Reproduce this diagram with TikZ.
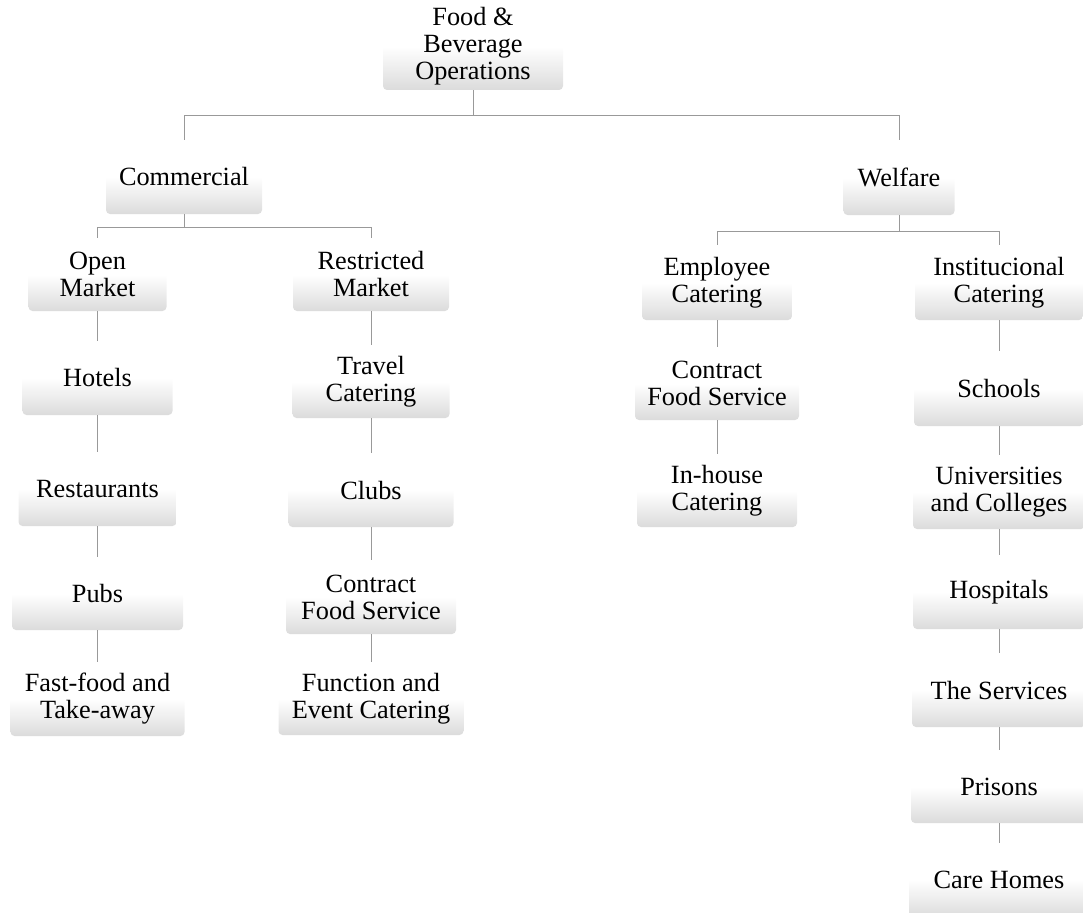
\documentclass[tikz,border=0pt]{standalone}
\usepackage{fontspec}
\setmainfont{Liberation Serif}
\begin{document}
\begin{tikzpicture}[x=1pt,y=-1pt,
  box/.style={rectangle, rounded corners=4pt, inner sep=0pt, align=center,
    top color=white, bottom color=black!14, middle color=white,
    font=\fontsize{26.3}{27}\selectfont},
  conn/.style={draw=black!40, line width=0.9pt}]
\useasboundingbox (0,0) rectangle (1083,912);
% top levels
\node[box, minimum width=180, minimum height=87] (root) at (473,46.5) {Food \&\\Beverage\\Operations};
\node[box, minimum width=156, minimum height=74] (com) at (184,177) {Commercial};
\node[box, minimum width=111, minimum height=75] (wel) at (899,177.5) {Welfare};
% commercial sub
\node[box, minimum width=138, minimum height=73] (open) at (97.5,274.5) {Open\\Market};
\node[box, minimum width=156, minimum height=73] (restr) at (371,274.5) {Restricted\\Market};
% welfare sub
\node[box, minimum width=150, minimum height=75] (emp) at (717,282.5) {Employee\\Catering};
\node[box, minimum width=168, minimum height=75] (inst) at (999,282.5) {Institucional\\Catering};
% open market column
\node[box, minimum width=150, minimum height=74] (hot) at (97.5,378) {Hotels};
\node[box, minimum width=158, minimum height=74] (res) at (97.5,489) {Restaurants};
\node[box, minimum width=171, minimum height=73] (pub) at (97.5,593.5) {Pubs};
\node[box, minimum width=174, minimum height=74] (fast) at (97.5,699) {Fast-food and\\Take-away};
% restricted market column
\node[box, minimum width=157, minimum height=73] (trav) at (371,381.5) {Travel\\Catering};
\node[box, minimum width=165, minimum height=74] (club) at (371,490) {Clubs};
\node[box, minimum width=170, minimum height=74] (cfsa) at (371,597) {Contract\\Food Service};
\node[box, minimum width=185, minimum height=73] (func) at (371,698.5) {Function and\\Event Catering};
% employee column
\node[box, minimum width=164, minimum height=73] (cfsb) at (717,383.5) {Contract\\Food Service};
\node[box, minimum width=160, minimum height=73] (inh) at (717,490.5) {In-house\\Catering};
% institutional column
\node[box, minimum width=170, minimum height=75] (sch) at (999,388.5) {Schools};
\node[box, minimum width=172, minimum height=74] (uni) at (999,492) {Universities\\and Colleges};
\node[box, minimum width=172, minimum height=74] (hos) at (999,592) {Hospitals};
\node[box, minimum width=174, minimum height=74] (ser) at (999,690) {The Services};
\node[box, minimum width=176, minimum height=73] (pri) at (999,786.5) {Prisons};
\node[box, minimum width=180, minimum height=74] (car) at (999,880) {Care Homes};
% bus coordinates
\coordinate (b0) at (473,115);
\coordinate (b1) at (184,227);
\coordinate (b2) at (899,231);
% connectors
\draw[conn] (root.south) -- (b0) -| (com.north);
\draw[conn] (b0) -| (wel.north);
\draw[conn] (com.south) -- (b1) -| (open.north);
\draw[conn] (b1) -| (restr.north);
\draw[conn] (wel.south) -- (b2) -| (emp.north);
\draw[conn] (b2) -| (inst.north);
\draw[conn] (open.south) -- (hot.north);
\draw[conn] (hot.south) -- (res.north);
\draw[conn] (res.south) -- (pub.north);
\draw[conn] (pub.south) -- (fast.north);
\draw[conn] (restr.south) -- (trav.north);
\draw[conn] (trav.south) -- (club.north);
\draw[conn] (club.south) -- (cfsa.north);
\draw[conn] (cfsa.south) -- (func.north);
\draw[conn] (emp.south) -- (cfsb.north);
\draw[conn] (cfsb.south) -- (inh.north);
\draw[conn] (inst.south) -- (sch.north);
\draw[conn] (sch.south) -- (uni.north);
\draw[conn] (uni.south) -- (hos.north);
\draw[conn] (hos.south) -- (ser.north);
\draw[conn] (ser.south) -- (pri.north);
\draw[conn] (pri.south) -- (car.north);
\end{tikzpicture}
\end{document}
